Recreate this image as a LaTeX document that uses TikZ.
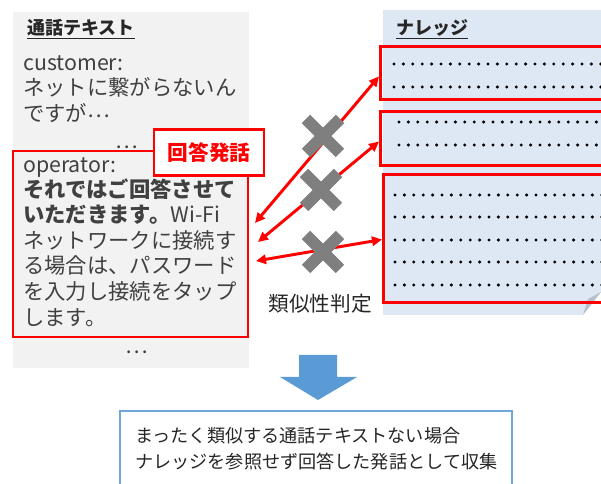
\documentclass[tikz,border=0pt]{standalone}
\usepackage{fontspec}
\setmainfont{Noto Sans CJK JP}
\usetikzlibrary{arrows.meta}
\definecolor{txt}{HTML}{404040}
\definecolor{dark}{HTML}{262626}
\definecolor{panelgray}{HTML}{F2F2F2}
\definecolor{panelblue}{HTML}{DEE8F4}
\definecolor{foldgray}{HTML}{B8C0CA}
\definecolor{xgray}{HTML}{7F7F7F}
\definecolor{arrowblue}{HTML}{5B9BD5}
\definecolor{boxblue}{HTML}{6FA5D9}
\definecolor{red}{HTML}{FF0000}
\tikzset{
  txtline/.style={anchor=west, inner sep=0pt, text=txt, font=\fontsize{16}{19}\selectfont, text height=14pt, text depth=2pt},
  ttl/.style={anchor=west, inner sep=0pt, text=dark, font=\bfseries\fontsize{13.5}{16}\selectfont},
  redbox/.style={draw=red, line width=2.2pt},
  redarrow/.style={draw=red, line width=2.2pt, {Triangle[length=7.5pt,width=7pt]}-{Triangle[length=7.5pt,width=7pt]}},
  xmark/.style={draw=xgray, line width=9pt},
  kdot/.style={fill=black},
  restxt/.style={anchor=west, inner sep=0pt, text=dark, font=\fontsize{13.6}{16}\selectfont, text height=12pt, text depth=2pt}
}
\begin{document}
\begin{tikzpicture}[x=0.75pt,y=-0.75pt]
\useasboundingbox (0,0) rectangle (601,484);
\clip (0,0) rectangle (601,484);
% left panel
\fill[panelgray] (13,12) rectangle (249,368);
\node[ttl] (t1) at (27,29) {\underline{通話テキスト}};
\node[txtline] (c1) at (23,63) {customer:};
\node[txtline] (c2) at (23,88) {ネットに繋がらないん};
\node[txtline] (c3) at (23,114) {ですが\raisebox{3.5pt}{…}};
\node[txtline, anchor=center] (d1) at (127,141) {…};
\draw[redbox] (13,151) rectangle (248,337);
\node[txtline] (o1) at (23,165) {operator:};
\node[txtline] (o2) at (23,190) {\bfseries それではご回答させて};
\node[txtline] (o3) at (23,215) {{\bfseries いただきます。}Wi-Fi};
\node[txtline] (o4) at (23,241) {ネットワークに接続す};
\node[txtline] (o5) at (23,266) {る場合は、パスワード};
\node[txtline] (o6) at (23,292) {を入力し接続をタップ};
\node[txtline] (o7) at (23,318) {します。};
\node[txtline, anchor=center] (d2) at (137,346) {…};
\node[draw=red, line width=2.2pt, fill=white, minimum width=82.5pt, minimum height=35pt, inner sep=0pt, text=red, font=\bfseries\fontsize{15.5}{18}\selectfont] (lab) at (209,152.5) {回答発話};
% right panel
\fill[panelblue] (383,10) -- (610,10) -- (610,292) -- (601,292) -- (583,315) -- (383,315) -- cycle;
\fill[foldgray] (583,315) -- (588,299) -- (601,292) -- cycle;
\node[ttl] (t2) at (396,29) {\underline{ナレッジ}};
\node[redbox, anchor=north west, minimum width=180pt, minimum height=39.75pt, inner sep=0pt] (k1) at (379,45) {};
\node[redbox, anchor=north west, minimum width=180pt, minimum height=40.5pt, inner sep=0pt] (k2) at (379,110) {};
\node[redbox, anchor=north west, minimum width=180pt, minimum height=96pt, inner sep=0pt] (k3) at (382,173) {};
\foreach \yy in {64,87} \foreach \i in {0,...,22} \fill[kdot] (394+\i*9.4,\yy) circle (1.25pt);
\foreach \yy in {122,145} \foreach \i in {0,...,22} \fill[kdot] (399+\i*9.4,\yy) circle (1.25pt);
\foreach \yy in {195,217,240,262,285} \foreach \i in {0,...,22} \fill[kdot] (395+\i*9.4,\yy) circle (1.25pt);
% connectors
\coordinate (a1) at (255,223);
\coordinate (a2) at (258,242);
\coordinate (a3) at (256,261);
\draw[redarrow] (a1) -- ([yshift=-2.6pt]k1.west);
\draw[redarrow] (a2) -- ([yshift=-2.3pt]k2.west);
\draw[redarrow] (a3) -- ([yshift=-0.8pt]k3.west);
% X marks
\foreach \cx/\cy in {323/136, 321/190, 323/252} {
  \draw[xmark] (\cx-17,\cy-17) -- (\cx+17,\cy+17);
  \draw[xmark] (\cx-17,\cy+17) -- (\cx+17,\cy-17);
}
\node[inner sep=0pt, text=dark, font=\fontsize{15.5}{18}\selectfont] (sim) at (320,304) {類似性判定};
% blue down arrow
\fill[arrowblue] (299,355) -- (337,355) -- (337,377) -- (357,377) -- (318,400) -- (280,377) -- (299,377) -- cycle;
% result box
\draw[boxblue, line width=2.2pt, fill=white] (120,411) rectangle (512,500);
\node[restxt] (r1) at (135,436) {まったく類似する通話テキストない場合};
\node[restxt] (r2) at (135,462) {ナレッジを参照せず回答した発話として収集};
\end{tikzpicture}
\end{document}
